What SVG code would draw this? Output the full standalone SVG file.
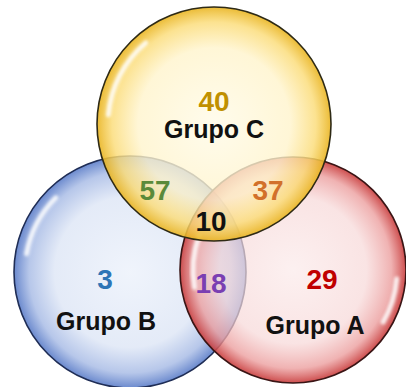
<svg xmlns="http://www.w3.org/2000/svg" width="406" height="387" viewBox="0 0 406 387">
<style>
.lbl{font-family:"Liberation Sans",Arial,sans-serif;font-weight:bold;text-anchor:middle}
.num{font-size:28px}
.name{font-size:25px;fill:#111}
.ring{stroke-width:1.6}
.hl{fill:none;stroke:#fff;stroke-width:5;stroke-linecap:round;opacity:0.85;filter:url(#blur)}
</style>
<defs>
<filter id="blur" x="-50%" y="-50%" width="200%" height="200%"><feGaussianBlur stdDeviation="1.6"/></filter>
<radialGradient id="gY" cx="50%" cy="50%" r="50%">
<stop offset="0" stop-color="#fffbe8" stop-opacity="0.8"/>
<stop offset="0.65" stop-color="#fff4cc" stop-opacity="0.8"/>
<stop offset="0.87" stop-color="#fbdc78" stop-opacity="0.82"/>
<stop offset="1" stop-color="#e9b420" stop-opacity="0.9"/>
</radialGradient>
<radialGradient id="gB" cx="50%" cy="50%" r="50%">
<stop offset="0" stop-color="#edf2fb" stop-opacity="0.85"/>
<stop offset="0.65" stop-color="#dfe7f6" stop-opacity="0.85"/>
<stop offset="0.87" stop-color="#aabde6" stop-opacity="0.85"/>
<stop offset="1" stop-color="#5a7cc8" stop-opacity="0.9"/>
</radialGradient>
<radialGradient id="gR" cx="50%" cy="50%" r="50%">
<stop offset="0" stop-color="#fbeaea" stop-opacity="0.7"/>
<stop offset="0.65" stop-color="#f7d8d8" stop-opacity="0.7"/>
<stop offset="0.87" stop-color="#ec9f9f" stop-opacity="0.8"/>
<stop offset="1" stop-color="#c83a3a" stop-opacity="0.9"/>
</radialGradient>
</defs>
<rect width="406" height="387" fill="#fff"/>
<g id="grupo-b">
<circle cx="130" cy="272" r="116" fill="url(#gB)" class="ring" stroke="#1f2d55"/>
<path class="hl" d="M26.6,253.8 A105,105 0 0 1 55.8,197.8"/>
</g>
<g id="grupo-a">
<circle cx="293" cy="270" r="113" fill="url(#gR)" class="ring" stroke="#3a1515"/>
<path class="hl" d="M194.5,287.4 A100,100 0 0 1 199,235.8"/>
<path class="hl" d="M396.6,279.1 A104,104 0 0 1 383.1,322"/>
</g>
<g id="grupo-c">
<circle cx="214" cy="124" r="117" fill="url(#gY)" class="ring" stroke="#2e2a15"/>
<path class="hl" d="M108.4,114.8 A106,106 0 0 1 145.8,42.8"/>
</g>
<g id="labels">
<text class="lbl num" x="214" y="111" fill="#c09000">40</text>
<text class="lbl name" x="214" y="138">Grupo C</text>
<text class="lbl num" x="155" y="200" fill="#5b8a3a">57</text>
<text class="lbl num" x="268" y="200" fill="#d2702a">37</text>
<text class="lbl num" x="211" y="231" fill="#111">10</text>
<text class="lbl num" x="211" y="293" fill="#7a3fb2">18</text>
<text class="lbl num" x="105" y="289" fill="#2e75b6">3</text>
<text class="lbl num" x="322" y="289" fill="#c00000">29</text>
<text class="lbl name" x="106" y="330">Grupo B</text>
<text class="lbl name" x="315" y="334">Grupo A</text>
</g>
</svg>
